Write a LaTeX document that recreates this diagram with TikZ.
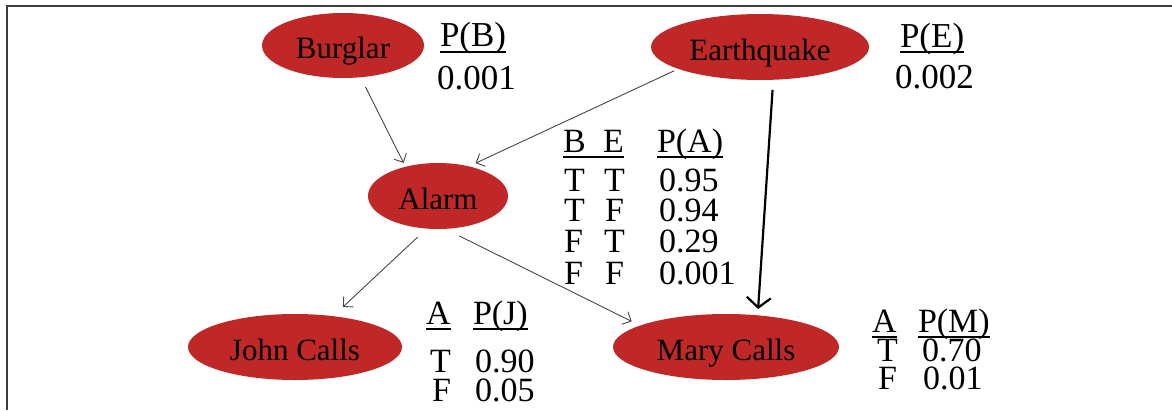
\documentclass[tikz,border=0pt]{standalone}
\usepackage{fontspec}
\setmainfont{Liberation Serif}
\usetikzlibrary{shapes.geometric,arrows.meta,calc}
\definecolor{nodered}{RGB}{192,40,40}
\definecolor{edgegray}{RGB}{70,70,70}
\definecolor{framegray}{RGB}{60,60,60}
\begin{document}
\begin{tikzpicture}[x=1pt,y=-1pt,
  bn/.style={ellipse, fill=nodered, inner sep=0pt, outer sep=0pt, text=black,
    text height=26pt, text depth=0pt,
    font=\fontsize{31}{32}\selectfont},
  tbig/.style={anchor=base west, inner sep=0pt, outer sep=0pt, font=\fontsize{35}{36}\selectfont},
  tmid/.style={anchor=base west, inner sep=0pt, outer sep=0pt, font=\fontsize{34}{35}\selectfont},
  ul/.style={line width=1.6pt, black},
  thinedge/.style={draw=edgegray, line width=0.9pt, -{Straight Barb[length=7pt,width=14pt]}},
  thickedge/.style={draw=black, line width=2.2pt, -{Straight Barb[length=10pt,width=24pt]}}
]
\useasboundingbox (0,0) rectangle (1172,410);
\draw[framegray, line width=2pt] (6.5,410) -- (6.5,5.5) -- (1172,5.5);

% nodes
\node[bn, minimum width=162pt, minimum height=65pt] (B) at (343,45.5) {Burglar};
\node[bn, minimum width=218pt, minimum height=66pt] (E) at (760,47) {Earthquake};
\node[bn, minimum width=140pt, minimum height=66pt] (A) at (438,196) {Alarm};
\node[bn, minimum width=214pt, minimum height=66pt] (J) at (295,347) {John Calls};
\node[bn, minimum width=226pt, minimum height=66pt] (M) at (726,347) {Mary Calls};

% edges
\draw[thinedge, shorten <=10.9pt, shorten >=4.35pt] (B.-61.7) -- (A.138.6);
\draw[thinedge, shorten <=4.6pt, shorten >=7.6pt] (E.195.7) -- (A.44.7);
\draw[thinedge, shorten <=12.5pt, shorten >=13.45pt] (A.251.7) -- (J.39.9);
\draw[thinedge, shorten <=16pt, shorten >=9.35pt] (A.-78.6) -- (M.166.6);
\draw[thickedge, shorten <=10.25pt, shorten >=6.33pt] (E.-68.3) -- (M.45.1);

% P(B)
\node[tbig] (pBh) at (440,46) {P(B)};
\node[tbig] (pBv) at (437,89) {0.001};
\draw[ul] ($(pBh.base west)+(0,6)$) -- ($(pBh.base east)+(0,6)$);
% P(E)
\node[tbig] (pEh) at (900,47) {P(E)};
\node[tbig] (pEv) at (895,88) {0.002};
\draw[ul] ($(pEh.base west)+(0,5)$) -- ($(pEh.base east)+(0,5)$);

% P(A)
\node[tmid] (aB) at (563,152) {B};
\node[tmid] (aE) at (603,152) {E};
\node[tmid] (aP) at (657,152) {P(A)};
\draw[ul] ($(aB.base west)+(0,5)$) -- ($(aE.base east)+(0,5)$);
\draw[ul] ($(aP.base west)+(0,5)$) -- ($(aP.base east)+(0,5)$);
\node[tmid] (a1b) at (564,191) {T};
\node[tmid] (a1e) at (604,191) {T};
\node[tmid] (a1p) at (659,191) {0.95};
\node[tmid] (a2b) at (564,221) {T};
\node[tmid] (a2e) at (605,221) {F};
\node[tmid] (a2p) at (659,221) {0.94};
\node[tmid] (a3b) at (564,252) {F};
\node[tmid] (a3e) at (604,252) {T};
\node[tmid] (a3p) at (659,252) {0.29};
\node[tmid] (a4b) at (564,284) {F};
\node[tmid] (a4e) at (605,284) {F};
\node[tmid] (a4p) at (659,284) {0.001};

% P(J)
\node[tmid] (jA) at (426,324) {A};
\node[tmid] (jP) at (473,324) {P(J)};
\draw[ul] ($(jA.base west)+(0,5)$) -- ($(jA.base east)+(0,5)$);
\draw[ul] ($(jP.base west)+(0,5)$) -- ($(jP.base east)+(0,5)$);
\node[tmid] (jT) at (430,372) {T};
\node[tmid] (jTv) at (475,372) {0.90};
\node[tmid] (jF) at (432,401) {F};
\node[tmid] (jFv) at (475,401) {0.05};

% P(M)
\node[tmid] (mA) at (872,332) {A};
\node[tmid] (mP) at (918,332) {P(M)};
\node[tmid] (mT) at (877,361) {T};
\node[tmid] (mTv) at (922,361) {0.70};
\node[tmid] (mF) at (878,389) {F};
\node[tmid] (mFv) at (923,389) {0.01};
\draw[ul] ($(mA.base west)+(0,5)$) -- ($(mA.base east)+(0,5)$);
\draw[ul] ($(mP.base west)+(0,5)$) -- ($(mP.base east)+(0,5)$);
\end{tikzpicture}
\end{document}
